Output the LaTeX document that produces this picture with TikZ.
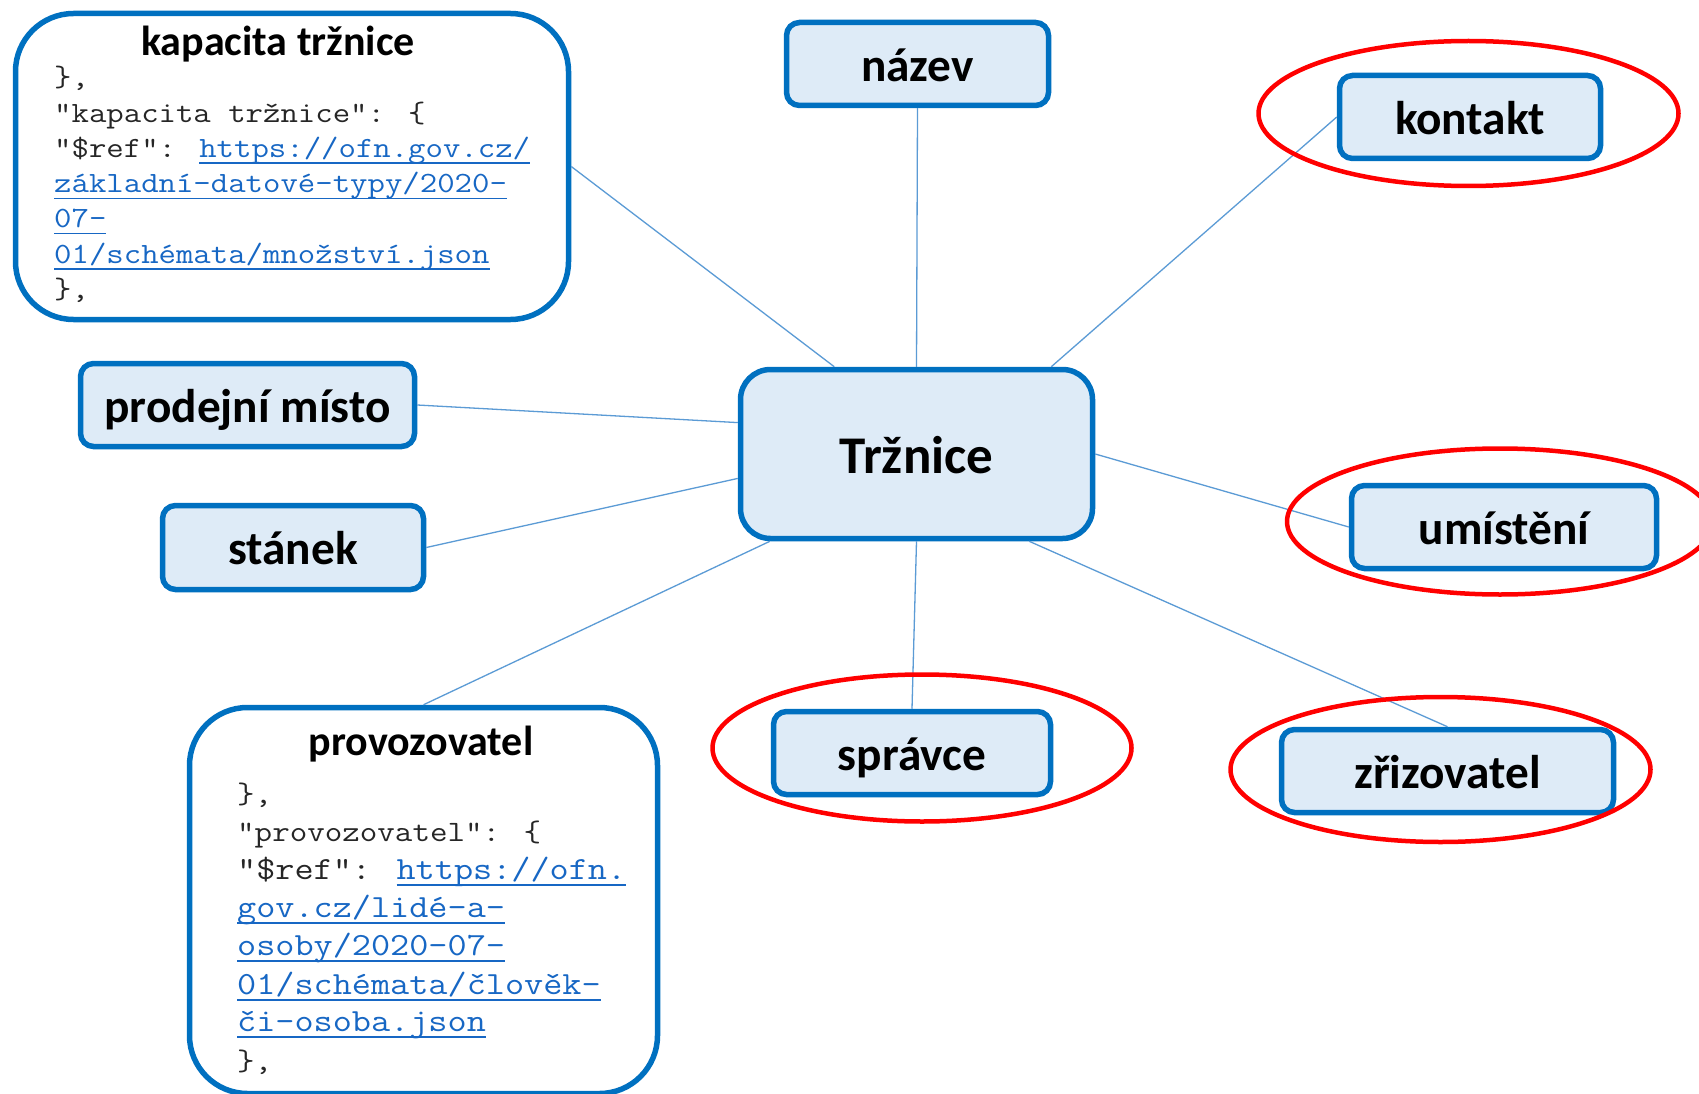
\documentclass[tikz,border=0pt]{standalone}
\usepackage{fontspec}
\setmainfont{Carlito}
\newfontfamily\codefont[FakeStretch=1.15]{Latin Modern Mono}
\usetikzlibrary{calc}
\definecolor{boxblue}{HTML}{0070C0}
\definecolor{boxfill}{HTML}{DEEBF7}
\definecolor{connblue}{HTML}{5B9BD5}
\definecolor{linkblue}{HTML}{1767C4}
\definecolor{codegray}{HTML}{262626}
\definecolor{ringred}{HTML}{FF0000}
\newcommand\lnk[1]{\textcolor{linkblue}{\setbox0\hbox{#1}\rlap{\rule[-6.5pt]{\wd0}{1.6pt}}\box0}}
\begin{document}
\begin{tikzpicture}[x=1pt,y=-1pt,
  lbl/.style={draw=boxblue, line width=5.5pt, fill=boxfill, rounded corners=13pt, inner sep=0pt,
    minimum height=83pt, text height=34.5pt, text depth=0pt,
    font=\bfseries\fontsize{47.3}{50}\selectfont},
  bigbox/.style={draw=boxblue, line width=5.5pt, fill=white, rounded corners=58pt, inner sep=0pt},
  boxtitle/.style={anchor=base, inner sep=0pt, font=\bfseries\fontsize{42}{46}\selectfont},
  codeA/.style={anchor=base west, inner sep=0pt, text=codegray, font=\codefont\fontsize{29.4}{35}\selectfont},
  codeB/.style={anchor=base west, inner sep=0pt, text=codegray, font=\codefont\fontsize{29.6}{38}\selectfont},
  codeC/.style={anchor=base west, inner sep=0pt, text=codegray, font=\codefont\fontsize{32.3}{38}\selectfont},
  cn/.style={draw=connblue, line width=1.3pt},
  ring/.style={draw=ringred, line width=4.5pt}]
\clip (0,0) rectangle (1699,1094);
\fill[white] (0,0) rectangle (1699,1094);

% big boxes
\node[bigbox, minimum width=553pt, minimum height=306pt] (kap) at (292,166.5) {};
\node[boxtitle] (kapt) at (278,56) {kapacita tržnice};
\node[codeA] (k1) at (54,87) {\},};
\node[codeA] (k2) at (54,122.2) {"kapacita tržnice": \{};
\node[codeA] (k3) at (54,157.4) {"\$ref": \lnk{https://ofn.gov.cz/}};
\node[codeA] (k4) at (54,192.6) {\lnk{základní-datové-typy/2020-}};
\node[codeA] (k5) at (54,227.8) {\lnk{07-}};
\node[codeA] (k6) at (54,263) {\lnk{01/schémata/množství.json}};
\node[codeA] (k7) at (54,298.2) {\},};

\node[bigbox, minimum width=468pt, minimum height=386pt] (prov) at (423.5,900.5) {};
\node[boxtitle] (provt) at (421,755) {provozovatel};
\node[codeB] (p1) at (237,803) {\},};
\node[codeB] (p2) at (237,841) {"provozovatel": \{};
\node[codeC] (p3) at (237,879) {"\$ref": \lnk{https://ofn.}};
\node[codeC] (p4) at (237,917) {\lnk{gov.cz/lidé-a-}};
\node[codeC] (p5) at (237,955) {\lnk{osoby/2020-07-}};
\node[codeC] (p6) at (237,994) {\lnk{01/schémata/člověk-}};
\node[codeC] (p7) at (237,1031) {\lnk{či-osoba.json}};
\node[codeB] (p8) at (237,1070) {\},};

% label boxes
\node[lbl, minimum width=262pt] (naz) at (917.5,64) {název};
\node[lbl, minimum width=261pt] (kon) at (1470,117) {kontakt};
\node[lbl, minimum width=334pt] (pro) at (247.5,405) {prodejní místo};
\node[lbl, minimum width=261pt, minimum height=84pt] (sta) at (293,547.5) {stánek};
\node[lbl, minimum width=305pt] (umi) at (1504,527) {umístění};
\node[lbl, minimum width=277pt] (spr) at (912,753) {správce};
\node[lbl, minimum width=332pt] (zri) at (1447.5,771) {zřizovatel};
\node[lbl, minimum width=352pt, minimum height=169pt, rounded corners=30pt,
  text height=39.5pt, font=\bfseries\fontsize{53}{56}\selectfont] (trz) at (916.5,454) {Tržnice};

% connectors
\draw[cn] ($(trz.north west)!0.27!(trz.north east)$) -- (kap.east);
\draw[cn] (trz.north) -- (naz.south);
\draw[cn] ($(trz.north west)!0.877!(trz.north east)$) -- (kon.west);
\draw[cn] ($(trz.north west)!0.32!(trz.south west)$) -- (pro.east);
\draw[cn] ($(trz.north west)!0.64!(trz.south west)$) -- (sta.east);
\draw[cn] (trz.east) -- (umi.west);
\draw[cn] ($(trz.south west)!0.09!(trz.south east)$) -- (prov.north);
\draw[cn] (trz.south) -- (spr.north);
\draw[cn] ($(trz.south west)!0.815!(trz.south east)$) -- (zri.north);

% red rings
\draw[ring] (1468.5,113.5) ellipse [x radius=210, y radius=72.5];
\draw[ring] (1500,521.5) ellipse [x radius=213, y radius=73];
\draw[ring] (922,748) ellipse [x radius=209.5, y radius=73.5];
\draw[ring] (1440.5,769.5) ellipse [x radius=210, y radius=72.5];
\end{tikzpicture}
\end{document}
